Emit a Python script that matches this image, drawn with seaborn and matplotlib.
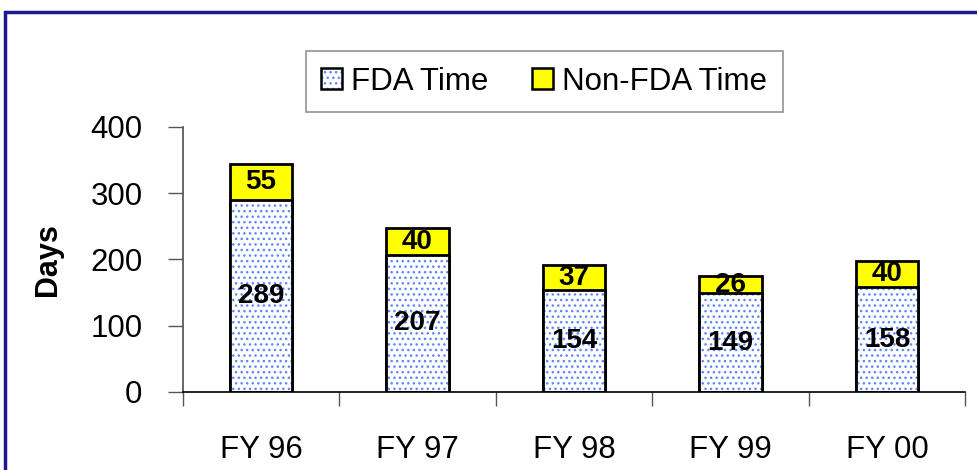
import numpy as np
import pandas as pd
import matplotlib
matplotlib.use("Agg")
import matplotlib.pyplot as plt
import seaborn as sns
from matplotlib.patches import Rectangle, Patch

years = ["FY 96", "FY 97", "FY 98", "FY 99", "FY 00"]
fda_time = [289, 207, 154, 149, 158]
non_fda_time = [55, 40, 37, 26, 40]

sns.set_theme(style="white")
plt.rcParams["font.family"] = ["Liberation Sans", "DejaVu Sans"]
plt.rcParams["text.color"] = "black"
plt.rcParams["xtick.color"] = "black"
plt.rcParams["ytick.color"] = "black"
plt.rcParams["axes.labelcolor"] = "black"
plt.rcParams["hatch.linewidth"] = 1.0

dot_blue = "#5b86ff"

df = pd.DataFrame({"Year": years, "FDA": fda_time, "NonFDA": non_fda_time})
df["Total"] = df["FDA"] + df["NonFDA"]

fig = plt.figure(figsize=(9.77, 4.70), dpi=100)
ax = fig.add_axes([0.187, 0.166, 0.801, 0.564])

# total bars (yellow part shows on top)
sns.barplot(data=df, x="Year", y="Total", color="#FFFF00", width=0.4,
            edgecolor="black", linewidth=2, saturation=1, ax=ax)
n = len(years)
# dotted FDA bars: hatch drawn with blue edge, then black outline on top
sns.barplot(data=df, x="Year", y="FDA", color="white", width=0.4,
            edgecolor=dot_blue, linewidth=0, saturation=1, ax=ax)
for p in ax.patches[n:2 * n]:
    p.set_hatch("...")
    p.set_edgecolor(dot_blue)
    p.set_linewidth(0)
sns.barplot(data=df, x="Year", y="FDA", fill=False, width=0.4,
            edgecolor="black", linewidth=2, ax=ax)

for i, (f, nf) in enumerate(zip(fda_time, non_fda_time)):
    ax.text(i, f / 2, str(f), ha="center", va="center", fontsize=20,
            fontweight="bold", color="black")
    ax.text(i, f + nf / 2, str(nf), ha="center", va="center", fontsize=20,
            fontweight="bold", color="black")

ax.set_ylim(0, 400)
ax.set_xlim(-0.5, 4.5)
ax.set_yticks([0, 100, 200, 300, 400])
ax.tick_params(axis="y", labelsize=22.5, length=11, width=1, direction="out",
               left=True, color="#555555", pad=18)
ax.set_xticks(range(n))
ax.set_xticks(np.arange(-0.5, n, 1.0), minor=True)
ax.tick_params(axis="x", which="major", length=0, labelsize=22.5, pad=31)
ax.tick_params(axis="x", which="minor", length=10, width=1, direction="out",
               bottom=True, color="#555555")
ax.set_xlabel("")
ax.set_ylabel("Days", fontsize=22, fontweight="bold")
ax.yaxis.set_label_coords(-0.153, 0.5)
for s in ["top", "right"]:
    ax.spines[s].set_visible(False)
ax.spines["left"].set_color("#555555")
ax.spines["bottom"].set_color("black")
ax.spines["bottom"].set_linewidth(1.2)

fda_handle = (Patch(facecolor="white", edgecolor=dot_blue, hatch="...", linewidth=0),
              Patch(fill=False, edgecolor="black", linewidth=1.8))
non_handle = Patch(facecolor="#FFFF00", edgecolor="black", linewidth=1.8)
leg = fig.legend(handles=[fda_handle, non_handle], labels=["FDA Time", "Non-FDA Time"],
                 loc="center", bbox_to_anchor=(0.557, 0.826),
                 ncol=2, fontsize=22.5, frameon=True, fancybox=False,
                 edgecolor="#777777", handlelength=0.65, handleheight=0.65,
                 handletextpad=0.3, columnspacing=1.4, borderpad=0.5)
leg.get_frame().set_linewidth(1.2)

# slide frame (dark blue border top/left)
fig.add_artist(Rectangle((5 / 977, -0.2), 1.2, 0.2 + 1 - 12 / 470,
                         transform=fig.transFigure, fill=False,
                         edgecolor="#1a1a8c", linewidth=2.5))

fig.savefig("out.png", dpi=100)
